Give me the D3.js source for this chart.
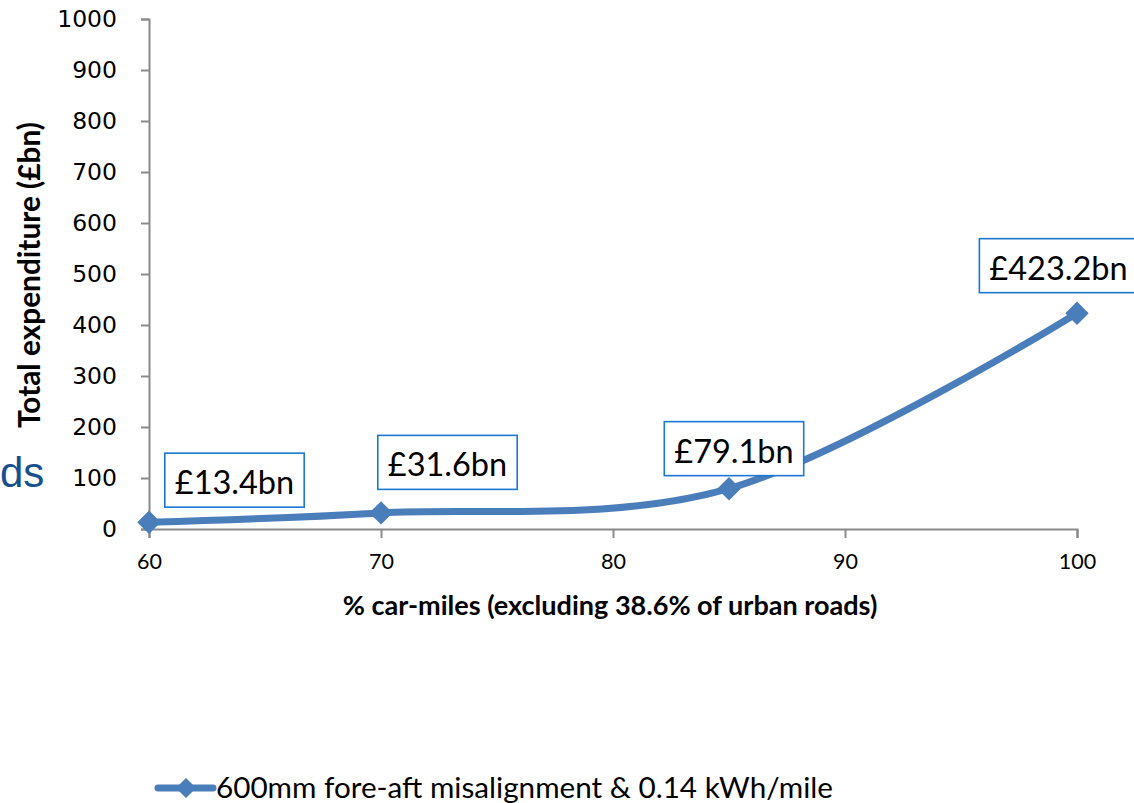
<!DOCTYPE html>
<html>
<head>
<meta charset="utf-8">
<script src="https://cdn.jsdelivr.net/npm/d3@7/dist/d3.min.js"></script>
<style>
  html, body { margin: 0; padding: 0; background: #ffffff; }
  svg { display: block; }
</style>
</head>
<body>
<svg id="chart" width="1134" height="803"></svg>
<script>
// Share of car-miles covered (%) and the total expenditure it requires (£bn)
const carMilesPct = [60, 70, 85, 100];
const expenditureBn = [13.4, 31.6, 79.1, 423.2];
const valueLabels = ["£13.4bn", "£31.6bn", "£79.1bn", "£423.2bn"];
const xTicks = [60, 70, 80, 90, 100];
const yTicks = [0, 100, 200, 300, 400, 500, 600, 700, 800, 900, 1000];
const seriesName = "600mm fore-aft misalignment & 0.14 kWh/mile";
const xTitle = "% car-miles (excluding 38.6% of urban roads)";
const yTitle = "Total expenditure (£bn)";

const svg = d3.select("#chart");
const blue = "#4a7ebb";
const axisGrey = "#8a8a8a";
const labelFont = "Lato, 'Open Sans', sans-serif";

const x = d3.scaleLinear().domain([60, 100]).range([149, 1077]);
const y = d3.scaleLinear().domain([0, 1000]).range([529, 19]);

// Scale a text element's font so its run spans the given width
function fitWidth(sel, width) {
  const base = parseFloat(sel.style("font-size"));
  const len = sel.node().getComputedTextLength();
  sel.style("font-size", (base * width / len).toFixed(2) + "px");
  return sel;
}

// Fragment of a heading sitting behind the plot on the left
svg.append("text")
  .attr("x", 0).attr("y", 487)
  .attr("text-anchor", "start")
  .style("font-family", "'Liberation Sans', Arial, sans-serif")
  .style("font-size", "42px")
  .style("fill", "#17508d")
  .text("ds");

// Y axis
const yAxis = d3.axisLeft(y).tickValues(yTicks).tickSize(8).tickPadding(24).tickFormat(d3.format("d"));
const gy = svg.append("g").attr("transform", `translate(${x(60)},0)`).call(yAxis);
gy.select(".domain").attr("stroke", axisGrey).attr("stroke-width", 2);
gy.selectAll(".tick line").attr("stroke", axisGrey).attr("stroke-width", 2);
gy.selectAll(".tick text")
  .style("font-family", "'DejaVu Sans', Verdana, sans-serif")
  .style("font-size", "23.5px")
  .style("fill", "#000");

// X axis
const xAxis = d3.axisBottom(x).tickValues(xTicks).tickSize(9).tickPadding(16).tickFormat(d3.format("d"));
const gx = svg.append("g").attr("transform", `translate(0,${y(0)})`).call(xAxis);
gx.select(".domain").attr("stroke", axisGrey).attr("stroke-width", 2);
gx.selectAll(".tick line").attr("stroke", axisGrey).attr("stroke-width", 2);
gx.selectAll(".tick text")
  .style("font-family", labelFont)
  .style("font-size", "21.5px")
  .style("fill", "#000");

// Axis titles
const xt = svg.append("text")
  .attr("x", 610).attr("y", 615)
  .attr("text-anchor", "middle")
  .style("font-family", labelFont)
  .style("font-weight", "bold")
  .style("font-size", "21px")
  .text(xTitle);
fitWidth(xt, 535);

const yt = svg.append("text")
  .attr("transform", "translate(40,275) rotate(-90)")
  .attr("text-anchor", "middle")
  .style("font-family", labelFont)
  .style("font-weight", "bold")
  .style("font-size", "22px")
  .text(yTitle);
fitWidth(yt, 306);

// Smoothed series line
const points = carMilesPct.map((d, i) => ({ x: d, y: expenditureBn[i], label: valueLabels[i] }));
const line = d3.line()
  .x(d => x(d.x))
  .y(d => y(d.y))
  .curve(d3.curveCatmullRom.alpha(0));

svg.append("path")
  .datum(points)
  .attr("d", line)
  .attr("fill", "none")
  .attr("stroke", blue)
  .attr("stroke-width", 7)
  .attr("stroke-linecap", "round")
  .attr("stroke-linejoin", "round");

// Diamond markers
const diamond = d3.symbol().type(d3.symbolDiamond2).size(350);
svg.selectAll(".marker")
  .data(points)
  .join("path")
  .attr("class", "marker")
  .attr("d", diamond)
  .attr("transform", d => `translate(${x(d.x)},${y(d.y)})`)
  .attr("fill", blue);

// Boxed value labels, offset from their points
const labelOffsets = [[85.5, -42], [66.5, -50.5], [5, -40], [-18.5, -47.5]];
const boxH = 54, padX = 10;
points.forEach((p, i) => {
  const cx = x(p.x) + labelOffsets[i][0];
  const cy = y(p.y) + labelOffsets[i][1];
  const g = svg.append("g");
  const t = g.append("text")
    .attr("x", cx).attr("y", cy + 14)
    .attr("text-anchor", "middle")
    .style("font-family", labelFont)
    .style("font-size", "32.5px")
    .style("fill", "#000")
    .text(p.label);
  const w = t.node().getComputedTextLength() + 2 * padX;
  g.insert("rect", "text")
    .attr("x", cx - w / 2).attr("y", cy - boxH / 2)
    .attr("width", w).attr("height", boxH)
    .attr("fill", "#fff")
    .attr("stroke", "#1a78d2")
    .attr("stroke-width", 1.6);
});

// Legend
const lg = svg.append("g");
lg.append("line")
  .attr("x1", 158).attr("x2", 213).attr("y1", 788).attr("y2", 788)
  .attr("stroke", blue).attr("stroke-width", 7).attr("stroke-linecap", "round");
lg.append("path")
  .attr("d", d3.symbol().type(d3.symbolDiamond2).size(260))
  .attr("transform", "translate(186,788)")
  .attr("fill", blue);
const lt = lg.append("text")
  .attr("x", 216).attr("y", 798)
  .style("font-family", labelFont)
  .style("font-size", "29px")
  .style("fill", "#000")
  .text(seriesName);
fitWidth(lt, 617);
</script>
</body>
</html>
